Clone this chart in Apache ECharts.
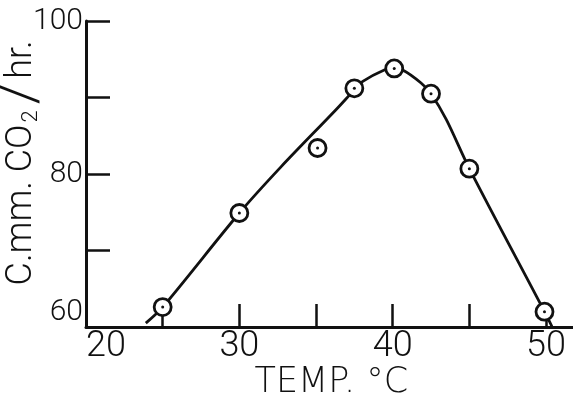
<!DOCTYPE html>
<html>
<head>
<meta charset="utf-8">
<script src="https://cdn.jsdelivr.net/npm/echarts@6/dist/echarts.min.js"></script>
<style>
  html, body { margin: 0; padding: 0; background: #fff; }
  #chart { width: 573px; height: 395px; }
</style>
</head>
<body>
<div id="chart"></div>
<script>
// measured points (temperature, rate)
var temps = [25.0, 30.0, 35.1, 37.5, 40.1, 42.5, 45.0, 49.9];
var rates = [62.6, 74.9, 83.4, 91.2, 93.8, 90.5, 80.7, 62.0];

// hand drawn curve
var curveTemps = [23.9, 25.0, 30.0, 32.7, 36.3, 37.5, 38.05, 39.45, 40.05, 40.65, 41.85, 42.5, 43.5, 45.0, 49.9, 50.4];
var curveRates = [60.5, 62.6, 74.9, 80.9, 88.4, 91.0, 92.1, 93.6, 93.8, 93.6, 91.9, 90.5, 87.1, 80.7, 62.0, 60.0];

var xLabels = [20, 30, 40, 50];
var yLabels = [60, 80, 100];

var ink = '#111';
var font = 'Roboto';

var myChart = echarts.init(document.getElementById('chart'));

var points = temps.map(function (t, i) { return [t, rates[i]]; });
var curve = curveTemps.map(function (t, i) { return [t, curveRates[i]]; });

var option = {
    backgroundColor: '#fff',
    animation: false,
    grid: { left: 86, top: 21, width: 490.7, height: 306, containLabel: false, outerBoundsMode: 'none' },
    xAxis: {
        type: 'value',
        min: 20,
        max: 52,
        interval: 5,
        splitLine: { show: false },
        axisLine: { lineStyle: { color: ink, width: 3 } },
        axisTick: { inside: true, length: 23, lineStyle: { color: ink, width: 2.5 } },
        axisLabel: {
            color: ink,
            fontFamily: font,
            fontWeight: 300,
            fontSize: 36,
            margin: 2,
            alignMinLabel: 'left',
            showMaxLabel: false,
            formatter: function (v) {
                return xLabels.indexOf(v) >= 0 ? String(v) : '';
            }
        },
        name: 'TEMP. °C',
        nameLocation: 'middle',
        nameGap: 38,
        nameMoveOverlap: false,
        nameTextStyle: { color: ink, fontFamily: 'DejaVu Sans', fontWeight: 200, fontSize: 35 }
    },
    yAxis: {
        type: 'value',
        min: 60,
        max: 100,
        interval: 10,
        splitLine: { show: false },
        axisLine: { lineStyle: { color: ink, width: 3 } },
        axisTick: { inside: true, length: 24, lineStyle: { color: ink, width: 2.5 } },
        axisLabel: {
            color: ink,
            fontFamily: font,
            fontWeight: 300,
            fontSize: 30,
            margin: 3,
            verticalAlignMinLabel: 'bottom',
            formatter: function (v) {
                return yLabels.indexOf(v) >= 0 ? String(v) : '';
            }
        },
        name: '{a|C.mm. CO}{s|2}{l|/}{a|hr.}',
        nameLocation: 'middle',
        nameGap: 46,
        nameRotate: 90,
        nameMoveOverlap: false,
        nameTextStyle: {
            color: ink,
            fontFamily: font,
            fontWeight: 300,
            padding: [0, 0, 0, 22],
            rich: {
                a: { fontFamily: font, fontWeight: 300, fontSize: 36, lineHeight: 36, color: ink },
                s: { fontFamily: font, fontWeight: 300, fontSize: 22, lineHeight: 22, padding: [18, 2, 0, 2], color: ink },
                l: { fontFamily: font, fontWeight: 300, fontSize: 54, lineHeight: 36, padding: [0, 4, 0, 4], color: ink }
            }
        }
    },
    series: [
        {
            type: 'line',
            data: curve,
            smooth: 0.3,
            showSymbol: false,
            lineStyle: { color: ink, width: 2.8 },
            z: 2
        },
        {
            type: 'scatter',
            data: points,
            symbol: 'circle',
            symbolSize: 17,
            itemStyle: { color: '#fff', borderColor: ink, borderWidth: 2.8, opacity: 1 },
            z: 3
        },
        {
            type: 'scatter',
            data: points,
            symbol: 'circle',
            symbolSize: 3,
            itemStyle: { color: ink, opacity: 1 },
            z: 4
        }
    ]
};

myChart.setOption(option);
</script>
</body>
</html>
